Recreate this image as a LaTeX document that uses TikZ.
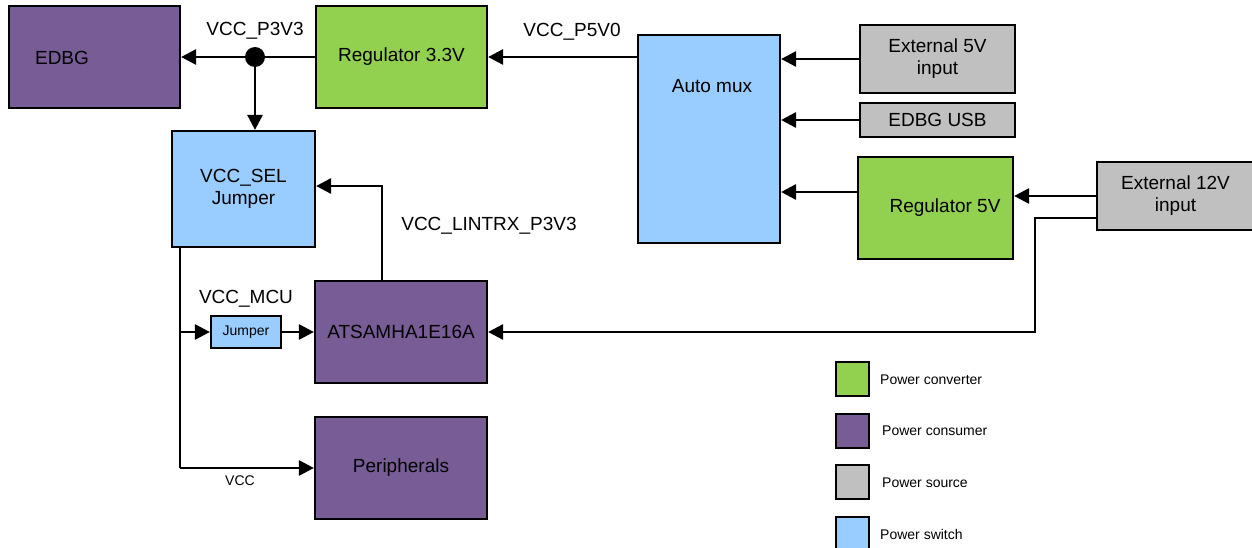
\documentclass[tikz,border=0pt]{standalone}
\usepackage{fontspec}
\setmainfont{Liberation Sans}
\usetikzlibrary{arrows.meta,calc}
\definecolor{cpurple}{HTML}{775C96}
\definecolor{cgreen}{HTML}{92D050}
\definecolor{cblue}{HTML}{99CCFF}
\definecolor{cgrey}{HTML}{C0C0C0}
\tikzset{
  box/.style={draw=black,line width=2.2pt,inner sep=0pt,font=\fontsize{19}{22}\selectfont,align=center},
  consumer/.style={box,fill=cpurple},
  converter/.style={box,fill=cgreen},
  source/.style={box,fill=cgrey},
  switchbox/.style={box,fill=cblue},
  wire/.style={line width=2.8pt},
  arr/.style={wire,-{Triangle[length=15pt,width=15pt]}},
  lbl/.style={font=\fontsize{19}{22}\selectfont,inner sep=0pt},
  slbl/.style={font=\fontsize{14}{16}\selectfont,inner sep=0pt},
  legbox/.style={draw=black,line width=2pt,minimum width=33pt,minimum height=34pt,inner sep=0pt},
}
\begin{document}
\begin{tikzpicture}[x=1pt,y=-1pt]
\useasboundingbox (0,0) rectangle (1252,548);
% boxes
\node[consumer,minimum width=171pt,minimum height=102pt] (edbg) at (94.5,57) {};
\node[lbl] (edbgT) at (62,58) {EDBG};
\node[converter,minimum width=171pt,minimum height=102pt] (reg33) at (401.5,57) {Regulator 3.3V};
\node[switchbox,minimum width=143pt,minimum height=116pt] (vccsel) at (243.5,189) {VCC\_SEL\\Jumper};
\node[switchbox,minimum width=142pt,minimum height=208pt] (automux) at (709,139) {};
\node[lbl] (automuxT) at (712,86) {Auto mux};
\node[source,minimum width=155pt,minimum height=68pt] (ext5) at (937.5,59) {External 5V\\input};
\node[source,minimum width=155pt,minimum height=34pt] (usb) at (937.5,120) {EDBG USB};
\node[converter,minimum width=155pt,minimum height=102pt] (reg5) at (935.5,208) {};
\node[lbl] (reg5T) at (945,208) {Regulator 5V};
\node[source,minimum width=157pt,minimum height=68pt] (ext12) at (1175.5,196) {External 12V\\input};
\node[consumer,minimum width=172pt,minimum height=102pt] (atsam) at (401,332) {ATSAMHA1E16A};
\node[switchbox,minimum width=70pt,minimum height=32pt,font=\fontsize{14}{16}\selectfont] (jumper) at (246,332) {Jumper};
\node[consumer,minimum width=172pt,minimum height=102pt] (periph) at (401,468) {Peripherals};
% junction
\fill (255,57) circle (10pt);
\coordinate (junc) at (255,57);
% labels
\node[lbl] (lp3v3) at (255,31) {VCC\_P3V3};
\node[lbl] (lp5v0) at (572,32) {VCC\_P5V0};
\node[lbl] (llin) at (489,226) {VCC\_LINTRX\_P3V3};
\node[lbl] (lmcu) at (246,299) {VCC\_MCU};
\node[slbl] (lvcc) at (240,481) {VCC};
% connectors
\draw[wire] (reg33.west) -- (junc);
\draw[arr] (junc) -- (edbg.east);
\draw[arr] (junc) -- (junc |- vccsel.north);
\draw[arr] (automux.west |- reg33) -- (reg33.east);
\draw[arr] (ext5.west) -- (ext5.west -| automux.east);
\draw[arr] (usb.west) -- (usb.west -| automux.east);
\coordinate (r5out) at ($(reg5.west)+(0,-16)$);
\draw[arr] (r5out) -- (r5out -| automux.east);
\draw[arr] (ext12.west) -- (ext12.west -| reg5.east);
\coordinate (e12b) at ($(ext12.west)+(0,22)$);
\coordinate (e12c) at (1035,218);
\draw[arr] (e12b) -- (e12c) |- (atsam.east);
\coordinate (lintop) at (382,281);
\draw[arr] (lintop) |- ($(vccsel.east)+(0,-3)$);
\coordinate (selout) at (180,247);
\coordinate (selbot) at (180,468);
\draw[wire] (selout) -- (selbot);
\draw[arr] (selbot) -- (periph.west);
\draw[arr] (selout |- jumper.west) -- (jumper.west);
\draw[arr] (jumper.east) -- (atsam.west);
% legend
\node[legbox,fill=cgreen] (lg1) at (852.5,379) {};
\node[legbox,fill=cpurple] (lg2) at (852.5,431) {};
\node[legbox,fill=cgrey] (lg3) at (852.5,482) {};
\node[legbox,fill=cblue] (lg4) at (852.5,534) {};
\node[slbl,anchor=west] (lt1) at (880,380) {Power converter};
\node[slbl,anchor=west] (lt2) at (882,431) {Power consumer};
\node[slbl,anchor=west] (lt3) at (882,483) {Power source};
\node[slbl,anchor=west] (lt4) at (880,534) {Power switch};
\end{tikzpicture}
\end{document}
